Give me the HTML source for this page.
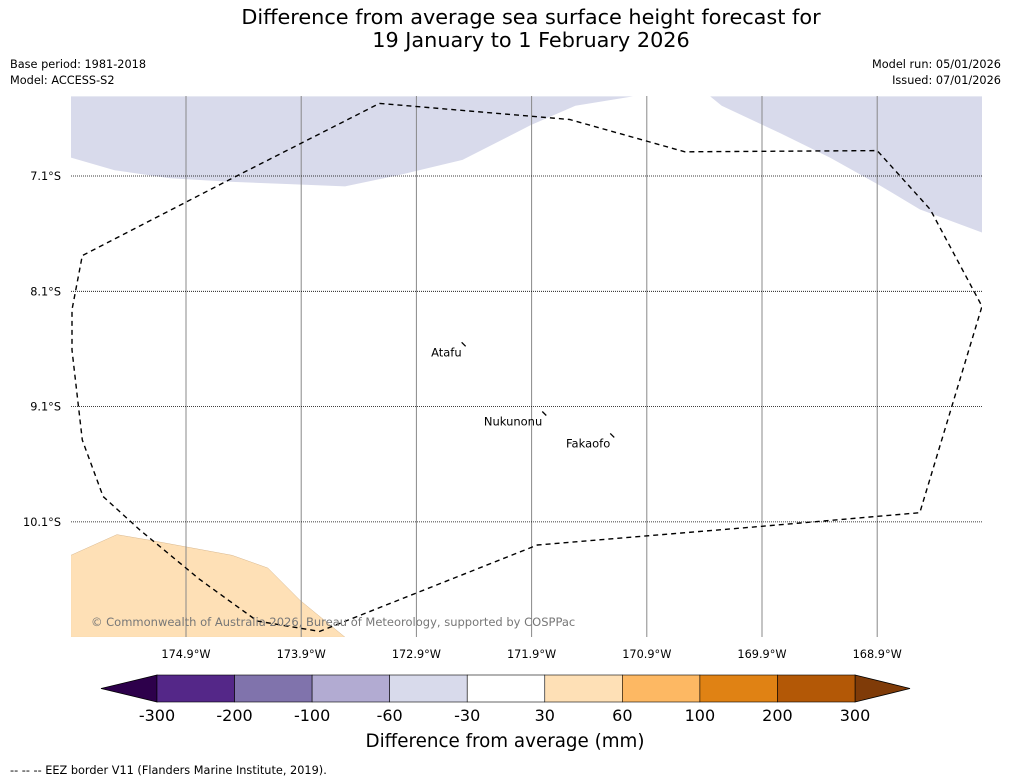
<!DOCTYPE html>
<html><head><meta charset="utf-8"><style>
html,body{margin:0;padding:0;background:#fff;}
svg{display:block;font-family:"DejaVu Sans","Liberation Sans",sans-serif;}
</style></head><body>
<svg id="chart" width="1011" height="781" viewBox="0 0 1011 781">
<defs><clipPath id="mapclip"><rect x="71" y="96" width="911" height="541"/></clipPath></defs>
<text x="531" y="24" font-size="20.8" text-anchor="middle">Difference from average sea surface height forecast for</text>
<text x="531" y="47" font-size="20.8" text-anchor="middle">19 January to 1 February 2026</text>
<text x="10" y="68" font-size="11.3">Base period: 1981-2018</text>
<text x="10" y="84" font-size="11.3">Model: ACCESS-S2</text>
<text x="1001" y="68" font-size="11.3" text-anchor="end">Model run: 05/01/2026</text>
<text x="1001" y="84" font-size="11.3" text-anchor="end">Issued: 07/01/2026</text>
<g id="map" clip-path="url(#mapclip)"></g>
<g id="axes"></g>
<g id="cbar"></g>
<text x="505" y="747" font-size="18.3" text-anchor="middle">Difference from average (mm)</text>
<text x="10" y="774" font-size="11.3">--  --  -- EEZ border V11 (Flanders Marine Institute, 2019).</text>
</svg>
<script>
const lonTicks=[-174.9,-173.9,-172.9,-171.9,-170.9,-169.9,-168.9];
const latTicks=[-7.1,-8.1,-9.1,-10.1];
const cbBounds=[-300,-200,-100,-60,-30,30,60,100,200,300];
const cbColors=["#542788","#8073ac","#b2abd2","#d8daeb","#ffffff","#fee0b6","#fdb863","#e08214","#b35806"];
const cbExtLow="#2d004b", cbExtHigh="#7f3b08";
const anomPurpleLeft=[[-175.9,-6.41],[-175.9,-6.94],[-175.52,-7.05],[-175.04,-7.12],[-174.52,-7.15],[-174.0,-7.17],[-173.52,-7.19],[-173.04,-7.09],[-172.5,-6.96],[-171.91,-6.66],[-171.52,-6.49],[-171.02,-6.41]];
const anomPurpleRight=[[-170.35,-6.41],[-170.25,-6.49],[-169.74,-6.73],[-169.31,-6.94],[-168.88,-7.18],[-168.53,-7.39],[-167.99,-7.59],[-167.99,-6.41]];
const anomOrange=[[-175.9,-10.39],[-175.5,-10.21],[-175.21,-10.26],[-174.5,-10.39],[-174.19,-10.5],[-173.91,-10.78],[-173.52,-11.1],[-175.9,-11.1]];
const eezBorder=[[-173.22,-6.47],[-171.57,-6.61],[-170.57,-6.89],[-168.9,-6.88],[-168.44,-7.39],[-167.99,-8.23],[-168.53,-10.02],[-169.92,-10.14],[-171.85,-10.3],[-173.74,-11.05],[-174.28,-10.96],[-174.78,-10.6],[-175.3,-10.17],[-175.62,-9.88],[-175.8,-9.39],[-175.89,-8.61],[-175.89,-8.26],[-175.8,-7.79],[-174.52,-7.13],[-173.22,-6.47]];
const islandNames=["Atafu","Nukunonu","Fakaofo"];
const islandLon=[-172.49,-171.79,-171.20];
const islandLat=[-8.56,-9.16,-9.35];

const NS="http://www.w3.org/2000/svg";
const X=lon=>186+(lon+174.9)*115.2;
const Y=lat=>176+(-7.1-lat)*115.3;
const CB=v=>{let i=cbBounds.findIndex((b,k)=>v<=cbBounds[k+1]);if(i<0)i=cbBounds.length-2;const x0=157,w=(855-157)/(cbBounds.length-1);return x0+w*(i+(v-cbBounds[i])/(cbBounds[i+1]-cbBounds[i]));};
function mk(t,a,p){const e=document.createElementNS(NS,t);for(const k in a)e.setAttribute(k,a[k]);p.appendChild(e);return e;}
const map=document.getElementById('map'),axes=document.getElementById('axes'),cb=document.getElementById('cbar');
const pts=arr=>arr.map(p=>X(p[0]).toFixed(1)+','+Y(p[1]).toFixed(1)).join(' ');
let e;
e=mk('polygon',{points:pts(anomPurpleLeft),fill:"#d8daeb"},map);


e=mk('polygon',{points:pts(anomPurpleRight),fill:"#d8daeb"},map);


e=mk('polygon',{points:pts(anomOrange),fill:"#fee0b6",stroke:"#d8b890","stroke-width":0.5},map);


lonTicks.forEach(l=>{
 e=mk('line',{x1:X(l),x2:X(l),y1:96,y2:637,stroke:"#888","stroke-width":1},map);
 
 
 e=mk('text',{x:X(l),y:658,"font-size":11.3,"text-anchor":"middle"},axes);
 e.textContent=Math.abs(l).toFixed(1)+"°W";
 
 
});
latTicks.forEach(l=>{
 e=mk('line',{x1:71,x2:982,y1:Y(l),y2:Y(l),stroke:"#000","stroke-width":0.8,"stroke-dasharray":"1,1"},map);
 
 
 e=mk('text',{x:61,y:Y(l)+4,"font-size":11.3,"text-anchor":"end"},axes);
 e.textContent=Math.abs(l).toFixed(1)+"°S";
 
 
});
e=mk('polyline',{points:pts(eezBorder),fill:"none",stroke:"#000","stroke-width":1.4,"stroke-dasharray":"5,4"},map);


islandNames.forEach((n,i)=>{
 const x=X(islandLon[i]),y=Y(islandLat[i]);
 e=mk('line',{x1:x-2,y1:y-2,x2:x+2,y2:y+2,stroke:"#000","stroke-width":1.3},map);
 
 
 e=mk('text',{x:x-2,y:y+12,"font-size":11.5,"text-anchor":"end"},map);
 e.textContent=n;
 
 
});
e=mk('text',{x:91,y:626,"font-size":11.5,fill:"#777"},map);
e.textContent="© Commonwealth of Australia 2026, Bureau of Meteorology, supported by COSPPac";


const cy0=675,cy1=702,cym=(cy0+cy1)/2;
e=mk('polygon',{points:`${CB(cbBounds[0])},${cy0} ${CB(cbBounds[0])},${cy1} 101,${cym}`,fill:cbExtLow,stroke:"#000","stroke-width":0.8},cb);


const last=cbBounds[cbBounds.length-1];
e=mk('polygon',{points:`${CB(last)},${cy0} ${CB(last)},${cy1} 910,${cym}`,fill:cbExtHigh,stroke:"#000","stroke-width":0.8},cb);


cbColors.forEach((c,i)=>{
 const x0=CB(cbBounds[i]),x1=CB(cbBounds[i+1]);
 e=mk('rect',{x:x0,y:cy0,width:x1-x0,height:cy1-cy0,fill:c,stroke:"#000","stroke-width":0.6},cb);
 
 
});
cbBounds.forEach(v=>{
 e=mk('text',{x:CB(v),y:721,"font-size":16,"text-anchor":"middle"},cb);
 e.textContent=v;
 
 
});
</script>
</body></html>
